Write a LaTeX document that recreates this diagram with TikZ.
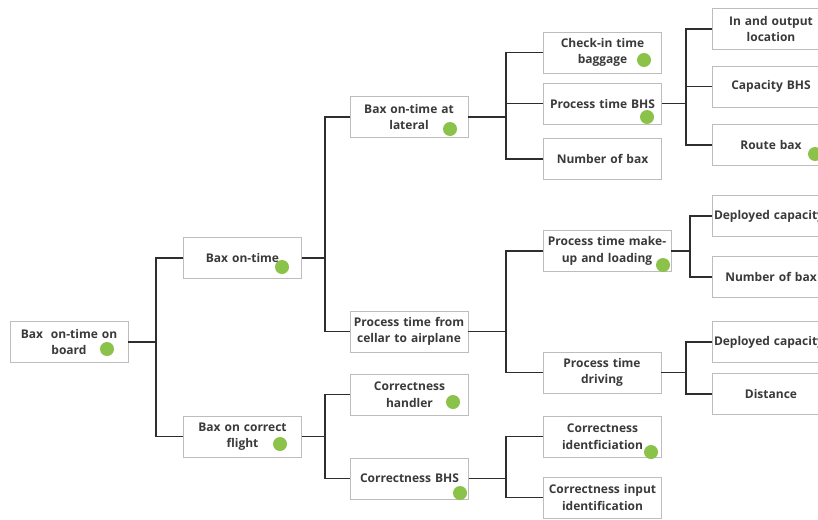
\documentclass[tikz,border=0pt]{standalone}
\usepackage{fontspec}
\setmainfont{Open Sans}
\begin{document}
\begin{tikzpicture}[x=1pt,y=-1pt,
  box/.style={draw=boxline,line width=0.8pt,fill=white,minimum width=118pt,minimum height=41pt,
    text width=114pt,align=center,inner sep=0pt,text=ink,
    font=\bfseries\fontsize{12}{16.5}\selectfont},
  wide/.style={minimum width=128pt,text width=126pt},
  cutbox/.style={align=left},
  dot/.style={circle,fill=leaf,minimum size=14pt,inner sep=0pt},
  link/.style={draw=wire,line width=1.5pt}]
\definecolor{boxline}{HTML}{BDBDBD}
\definecolor{ink}{HTML}{3A3A3A}
\definecolor{wire}{HTML}{2E2E2E}
\definecolor{leaf}{HTML}{8BC34A}
\useasboundingbox (0,0) rectangle (818,519);
\clip (0,0) rectangle (818,519);

% level 0
\node[box] (root) at (69,342) {Bax~ on-time on\\board};
% level 1
\node[box] (ontime) at (242.5,258) {Bax on-time};
\node[box] (correct) at (242.5,436.5) {Bax on correct\\flight};
% level 2
\node[box] (lateral) at (409,117) {Bax on-time at\\lateral};
\node[box] (cellar) at (409,331.5) {Process time from\\cellar to airplane};
\node[box] (handler) at (409.5,394.5) {Correctness\\handler};
\node[box] (cbhs) at (409.5,478.5) {Correctness BHS};
% level 3
\node[box] (checkin) at (602.5,52.5) {Check-in time\\baggage};
\node[box] (ptbhs) at (602.5,103.5) {Process time BHS};
\node[box] (nbax) at (602.5,159) {Number of bax};
\node[box,wide] (makeup) at (607,251) {Process time make-\\up and loading};
\node[box] (driving) at (602,372.5) {Process time\\driving};
\node[box] (cident) at (602.5,436.5) {Correctness\\identficiation};
\node[box] (cinput) at (602.5,497.5) {Correctness input\\identification};
% level 4
\node[box] (inout) at (771,29) {In and output\\location};
\node[box] (capbhs) at (771,86.5) {Capacity BHS};
\node[box] (route) at (771,145) {Route bax};
\node[box,cutbox] (dep1) at (771,216) {Deployed capacity};
\node[box] (nbax2) at (771,277) {Number of bax};
\node[box,cutbox] (dep2) at (771,342) {Deployed capacity};
\node[box] (dist) at (771,394) {Distance};

% junction points of the tree connectors
\coordinate (j0) at (156,342);
\coordinate (j1) at (325,258);
\coordinate (j2) at (325,436.5);
\coordinate (j3) at (506,117);
\coordinate (j4) at (506,331.5);
\coordinate (j5) at (506,478.5);
\coordinate (j6) at (686,103.5);
\coordinate (j7) at (690,251);
\coordinate (j8) at (686,372.5);

\begin{scope}[link]
\draw (root.east) -- (j0);
\draw (ontime.west) -- (ontime.west -| j0) -- (correct.west -| j0) -- (correct.west);

\draw (ontime.east) -- (j1);
\draw (lateral.west) -- (lateral.west -| j1) -- (cellar.west -| j1) -- (cellar.west);
\draw (correct.east) -- (j2);
\draw (handler.west) -- (handler.west -| j2) -- (cbhs.west -| j2) -- (cbhs.west);

\draw (lateral.east) -- (j3);
\draw (checkin.west) -- (checkin.west -| j3) -- (nbax.west -| j3) -- (nbax.west);
\draw (ptbhs.west) -- (ptbhs.west -| j3);
\draw (cellar.east) -- (j4);
\draw (makeup.west) -- (makeup.west -| j4) -- (driving.west -| j4) -- (driving.west);
\draw (cbhs.east) -- (j5);
\draw (cident.west) -- (cident.west -| j5) -- (cinput.west -| j5) -- (cinput.west);

\draw (ptbhs.east) -- (j6);
\draw (inout.west) -- (inout.west -| j6) -- (route.west -| j6) -- (route.west);
\draw (capbhs.west) -- (capbhs.west -| j6);
\draw (makeup.east) -- (j7);
\draw (dep1.west) -- (dep1.west -| j7) -- (nbax2.west -| j7) -- (nbax2.west);
\draw (driving.east) -- (j8);
\draw (dep2.west) -- (dep2.west -| j8) -- (dist.west -| j8) -- (dist.west);
\end{scope}

% status markers
\node[dot] (d1) at (107,349) {};
\node[dot] (d2) at (282,267) {};
\node[dot] (d3) at (280,444) {};
\node[dot] (d4) at (450,129) {};
\node[dot] (d5) at (453,402) {};
\node[dot] (d6) at (460,493) {};
\node[dot] (d7) at (644,60) {};
\node[dot] (d8) at (647,117) {};
\node[dot] (d9) at (815,154) {};
\node[dot] (d10) at (663,265) {};
\node[dot] (d11) at (651,452) {};
\end{tikzpicture}
\end{document}
